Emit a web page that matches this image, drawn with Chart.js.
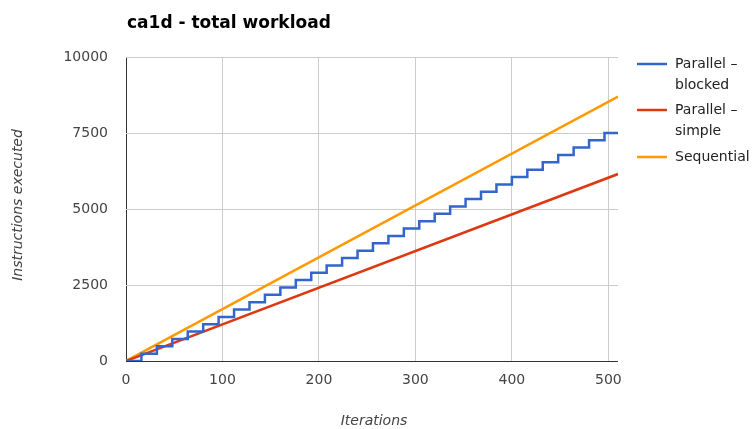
<!DOCTYPE html>
<html>
<head>
<meta charset="utf-8">
<script src="https://cdn.jsdelivr.net/npm/chart.js@4/dist/chart.umd.min.js"></script>
<style>
  html, body { margin: 0; padding: 0; background: #ffffff; }
  canvas { display: block; }
</style>
</head>
<body>
<canvas id="chart" width="755" height="429"></canvas>
<script>
// ca1d workload: instructions executed per iteration count
const chartTitle = 'ca1d - total workload';
const xAxisTitle = 'Iterations';
const yAxisTitle = 'Instructions executed';

const xTicks = [0, 100, 200, 300, 400, 500];
const yTicks = [0, 2500, 5000, 7500, 10000];
const iterationMax = 510;

// Parallel – blocked: work jumps at the start of every 16-iteration block
const blockedIterations = [0, 16, 32, 48, 64, 80, 96, 112, 128, 144, 160, 176, 192, 208, 224, 240,
  256, 272, 288, 304, 320, 336, 352, 368, 384, 400, 416, 432, 448, 464, 480, 496, 510];
const blockedInstructions = [0, 240, 485, 725, 970, 1210, 1450, 1695, 1935, 2180, 2420, 2665, 2905, 3145, 3390, 3630,
  3875, 4115, 4355, 4600, 4840, 5085, 5325, 5565, 5810, 6050, 6295, 6535, 6775, 7020, 7260, 7500, 7500];

// Parallel – simple and Sequential grow linearly
const simpleIterations = [0, 510];
const simpleInstructions = [0, 6150];
const sequentialIterations = [0, 510];
const sequentialInstructions = [0, 8700];

const seriesNames = ['Parallel – blocked', 'Parallel – simple', 'Sequential'];
const legendLines = [['Parallel –', 'blocked'], ['Parallel –', 'simple'], ['Sequential']];
const seriesColors = ['#3366cc', '#dc3912', '#ff9900'];

const toPoints = (xs, ys) => xs.map((x, i) => ({ x: x, y: ys[i] }));

const FONT = '"DejaVu Sans", sans-serif';

// Title, axis titles and the two-line legend on the right
const decorations = {
  id: 'decorations',
  afterDraw(chart) {
    const ctx = chart.ctx;
    const area = chart.chartArea;
    ctx.save();

    ctx.fillStyle = '#000000';
    ctx.font = 'bold 17px ' + FONT;
    ctx.textAlign = 'left';
    ctx.textBaseline = 'alphabetic';
    ctx.fillText(chartTitle, 127, 28);

    ctx.fillStyle = '#444444';
    ctx.font = 'italic 14px ' + FONT;
    ctx.textAlign = 'center';
    ctx.textBaseline = 'middle';
    ctx.fillText(xAxisTitle, (area.left + area.right) / 2 + 2, 421);

    ctx.save();
    ctx.translate(18, 205);
    ctx.rotate(-Math.PI / 2);
    ctx.fillText(yAxisTitle, 0, 0);
    ctx.restore();

    const rows = [64, 110, 157];
    ctx.font = '14px ' + FONT;
    ctx.textAlign = 'left';
    chart.data.datasets.forEach((ds, i) => {
      const y = rows[i];
      ctx.strokeStyle = ds.borderColor;
      ctx.lineWidth = 2.5;
      ctx.beginPath();
      ctx.moveTo(637, y);
      ctx.lineTo(667, y);
      ctx.stroke();
      ctx.fillStyle = '#222222';
      legendLines[i].forEach((line, j) => {
        ctx.fillText(line, 675, y + j * 21);
      });
    });
    ctx.restore();
  }
};

const gridColor = (ctx) => (ctx.tick && ctx.tick.value === 0) ? '#333333' : '#cccccc';

new Chart(document.getElementById('chart'), {
  type: 'line',
  data: {
    datasets: [
      {
        label: seriesNames[0],
        data: toPoints(blockedIterations, blockedInstructions),
        borderColor: seriesColors[0],
        stepped: 'before'
      },
      {
        label: seriesNames[1],
        data: toPoints(simpleIterations, simpleInstructions),
        borderColor: seriesColors[1]
      },
      {
        label: seriesNames[2],
        data: toPoints(sequentialIterations, sequentialInstructions),
        borderColor: seriesColors[2]
      }
    ]
  },
  options: {
    responsive: false,
    devicePixelRatio: 1,
    animation: false,
    datasets: {
      line: { borderWidth: 2.5, pointRadius: 0, tension: 0, fill: false, borderJoinStyle: 'miter' }
    },
    layout: { padding: { left: 0, top: 57, right: 137, bottom: 0 } },
    plugins: {
      legend: { display: false },
      title: { display: false },
      tooltip: { enabled: false }
    },
    scales: {
      x: {
        type: 'linear',
        min: 0,
        max: iterationMax,
        afterBuildTicks: (s) => { s.ticks = xTicks.map(v => ({ value: v })); },
        afterFit: (s) => { s.height = 68; },
        border: { display: false },
        grid: { color: gridColor, drawTicks: false, lineWidth: 1 },
        ticks: { padding: 11, color: '#444444', font: { family: FONT, size: 14 }, callback: (v) => String(v), maxRotation: 0 }
      },
      y: {
        type: 'linear',
        min: 0,
        max: 10000,
        afterBuildTicks: (s) => { s.ticks = yTicks.map(v => ({ value: v })); },
        afterFit: (s) => { s.width = 126; },
        border: { display: false },
        grid: { color: gridColor, drawTicks: false, lineWidth: 1 },
        ticks: { padding: 18, color: '#444444', font: { family: FONT, size: 14 }, callback: (v) => String(v) }
      }
    }
  },
  plugins: [decorations]
});
</script>
</body>
</html>
